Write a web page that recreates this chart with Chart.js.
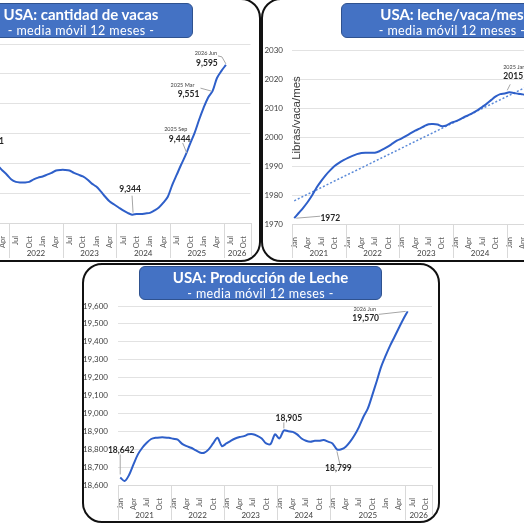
<!DOCTYPE html>
<html>
<head>
<meta charset="utf-8">
<script src="https://cdn.jsdelivr.net/npm/chart.js@4.4.1/dist/chart.umd.min.js"></script>
<style>
html,body{margin:0;padding:0;background:#fff}
body{position:relative;width:524px;height:524px;overflow:hidden;font-family:Lato,sans-serif}
.panel{position:absolute;box-sizing:border-box;border:2px solid #111;border-radius:20px;overflow:hidden;background:#fff}
.panel canvas{position:absolute}
.title{position:absolute;box-sizing:border-box;background:#4472c4;border:1px solid #2f528f;border-radius:6px;color:#fff;text-align:center;z-index:2}
.title b{display:block;font-size:15px;line-height:17px;margin-top:2px}
.title span{display:block;font-size:12.5px;line-height:15px;letter-spacing:.4px}
</style>
</head>
<body>

<div class="panel" style="left:-40px;top:-2px;width:301px;height:264px">
  <canvas id="cA" width="330" height="262" style="left:-22px;top:0"></canvas>
  <div class="title" style="left:7px;top:3px;width:224px;height:35px"><b>USA: cantidad de vacas</b><span>- media móvil 12 meses -</span></div>
</div>

<div class="panel" style="left:261px;top:-2px;width:300px;height:264px">
  <canvas id="cB" width="360" height="262" style="left:0;top:0"></canvas>
  <div class="title" style="left:78px;top:3px;width:222px;height:35px"><b>USA: leche/vaca/mes</b><span>- media móvil 12 meses -</span></div>
</div>

<div class="panel" style="left:82px;top:263px;width:358px;height:260px">
  <canvas id="cC" width="354" height="256" style="left:0;top:0"></canvas>
  <div class="title" style="left:55px;top:1px;width:243px;height:34px"><b>USA: Producción de Leche</b><span>- media móvil 12 meses -</span></div>
</div>

<script>
const LINE = "#2e5fc9";
const MONTHS = ["Jan","Feb","Mar","Apr","May","Jun","Jul","Aug","Sep","Oct","Nov","Dec"];
const SHOWN = ["Jan","Apr","Jul","Oct"];

function monthRun(start, count){
    return Array.from({length:count}, (_,i)=>MONTHS[(start+i)%12]);
}

// Cantidad de vacas (miles) - Jun 2021 .. Nov 2026, visible from 2022
const vacasMeses = monthRun(5, 66);
const vacas = [
    null,null,null,null,null,null,null,
    9441,9433,9426,9418,9411,9403,9399,9398,9398,9399,9403,9406,
    9408,9411,9414,9418,9419,9419,9418,9414,9411,9408,9403,9396,
    9391,9383,9374,9366,9361,9356,9351,9347,9344,9345,9345,9346,
    9347,9351,9356,9364,9374,9394,9411,9428,9444,9463,9481,9503,
    9523,9540,9551,9573,9585,9595,
    null,null,null,null,null
];
const vacasAnios = ["2021","2022","2023","2024","2025","2026"];
const vacasCortes = [0,12,24,36,48,60,66];

// Leche por vaca (libras/mes) - Jan 2021 ..
const lecheVacaMeses = monthRun(0, 71);
const lecheVaca = [
    1972.0,1973.8,1975.6,1977.6,1979.9,1982.6,1984.8,1986.8,1988.5,1990.0,1991.1,1992.0,
    1992.8,1993.5,1994.1,1994.5,1994.6,1994.6,1994.6,1995.1,1995.9,1996.8,1997.8,1998.8,
    1999.5,2000.4,2001.3,2002.2,2002.9,2003.7,2004.4,2004.5,2004.3,2003.7,2004.0,2004.9,
    2005.4,2006.1,2006.9,2007.6,2008.4,2009.3,2010.4,2011.5,2012.8,2014.0,2014.8,2015.0,
    2015.4,2015.2,2014.9,2014.7,2014.4
];
const tendIni = 1978.0, tendFin = 2017.4;
const tendencia = lecheVaca.map((_,i)=> i===0 ? tendIni : (i===lecheVaca.length-1 ? tendFin : null));
const lecheVacaAnios = ["2021","2022","2023","2024","2025","2026"];
const lecheVacaCortes = [0,12,24,36,48,65,71];

// Produccion de leche (millones de libras) - Jan 2021 .. Nov 2026
const produccionMeses = monthRun(0, 71);
const produccion = [
    18642,18622,18656,18715,18771,18808,18836,18857,18864,18866,18866,18864,
    18858,18853,18830,18817,18808,18795,18782,18780,18799,18832,18864,18817,
    18832,18847,18860,18868,18873,18883,18884,18875,18860,18832,18829,18883,
    18860,18905,18900,18897,18883,18860,18847,18842,18847,18847,18851,18842,
    18832,18799,18800,18814,18842,18879,18925,18981,19028,19102,19180,19260,
    19321,19377,19427,19477,19526,19570,
    null,null,null,null,null
];
const produccionAnios = ["2021","2022","2023","2024","2025","2026"];
const produccionCortes = [0,12,24,36,48,65,71];

const fmtMiles = v => v.toLocaleString("en-US");

// year row under the month labels (excel multi level axis)
const yearAxis = {
    id: "yearAxis",
    afterDraw(chart, args, opts){
        if(!opts || !opts.labels) return;
        const {ctx, chartArea} = chart;
        const x = chart.scales.x;
        const half = (x.getPixelForValue(1) - x.getPixelForValue(0)) / 2;
        const edge = i => x.getPixelForValue(i) - half;
        ctx.save();
        ctx.strokeStyle = "#d9d9d9"; ctx.lineWidth = 1;
        opts.cuts.forEach(i=>{
            const px = Math.round(edge(i)) + 0.5;
            ctx.beginPath(); ctx.moveTo(px, chartArea.bottom); ctx.lineTo(px, chartArea.bottom + opts.depth); ctx.stroke();
        });
        ctx.fillStyle = "#404040"; ctx.font = "8px Lato";
        ctx.textAlign = "center"; ctx.textBaseline = "middle";
        opts.labels.forEach((t,k)=>{
            ctx.fillText(t, (edge(opts.cuts[k]) + edge(opts.cuts[k+1])) / 2, chartArea.bottom + opts.textY);
        });
        ctx.restore();
    }
};

// data labels with leader lines
const pointNotes = {
    id: "pointNotes",
    afterDatasetsDraw(chart, args, opts){
        if(!opts || !opts.notes) return;
        const ctx = chart.ctx;
        const meta = chart.getDatasetMeta(0);
        const values = chart.data.datasets[0].data;
        ctx.save();
        ctx.textAlign = "center"; ctx.textBaseline = "middle";
        opts.notes.forEach(n=>{
            const p = meta.data[n.i];
            if(n.lead){
                ctx.strokeStyle = "#a6a6a6"; ctx.lineWidth = 1;
                ctx.beginPath();
                n.lead.forEach(([dx,dy],k)=> k ? ctx.lineTo(p.x+dx, p.y+dy) : ctx.moveTo(p.x+dx, p.y+dy));
                ctx.stroke();
            }
            if(n.cap){
                ctx.fillStyle = "#404040"; ctx.font = "5.5px Lato";
                ctx.fillText(n.cap, p.x+n.cx, p.y+n.cy);
            }
            ctx.fillStyle = "#262626"; ctx.font = "bold 8.5px Lato";
            ctx.fillText(opts.fmt(values[n.i]), p.x+n.dx, p.y+n.dy);
        });
        ctx.restore();
    }
};

Chart.register(yearAxis, pointNotes);
Chart.defaults.font.family = "Lato";

function lineChart(id, labels, datasets, cfg){
    return new Chart(document.getElementById(id), {
        type: "line",
        data: {labels, datasets},
        options: {
            responsive: false, animation: false, events: [],
            layout: {padding: cfg.pad},
            plugins: {
                legend: {display:false}, tooltip: {enabled:false},
                yearAxis: cfg.years, pointNotes: cfg.notes
            },
            scales: {
                x: {
                    offset: true,
                    grid: {display:false},
                    border: {display:true, color:"#d9d9d9"},
                    ticks: {
                        autoSkip:false, minRotation:90, maxRotation:90, padding:5,
                        color:"#595959", font:{size:7.5},
                        callback(v){ const l = this.getLabelForValue(v); return SHOWN.includes(l) ? l : ""; }
                    },
                    afterFit(s){ s.height = cfg.xh; s.paddingLeft = 0; s.paddingRight = 0; }
                },
                y: {
                    min: cfg.min, max: cfg.max,
                    grid: {color:"#e2e2e2", drawTicks:false},
                    border: {display:false},
                    ticks: {display: cfg.yw > 0, stepSize: cfg.step, padding: cfg.ytp,
                            color:"#404040", font:{size:8}, callback: cfg.yfmt},
                    afterFit(s){ s.width = cfg.yw; s.paddingTop = 0; s.paddingBottom = 0; }
                }
            }
        },
        plugins: cfg.extra || []
    });
}

lineChart("cA", vacasMeses, [
    {data: vacas, borderColor: LINE, borderWidth: 2, pointRadius: 0, tension: 0.3}
], {
    pad: {left:15.5, right:19.5, top:44, bottom:0}, xh: 39, yw: 0,
    min: 9330, max: 9630, step: 50, ytp: 0, yfmt: fmtMiles,
    years: {labels: vacasAnios, cuts: vacasCortes, depth: 35, textY: 30},
    notes: {fmt: fmtMiles, notes: [
        {i:7,  dx:4,   dy:-16},
        {i:39, dx:-2,  dy:-25, lead:[[0,-19],[1,-2]]},
        {i:51, dx:-6,  dy:-16, cap:"2025 Sep", cx:-10, cy:-26, lead:[[-3,-12],[1,-2]]},
        {i:57, dx:-24, dy:3,   cap:"2025 Mar", cx:-30, cy:-6,  lead:[[-12,-3],[-1,0]]},
        {i:60, dx:-19, dy:-2,  cap:"2026 Jun", cx:-20, cy:-12, lead:[[-8,-9],[-4,-8],[0,-1]]}
    ]}
});

lineChart("cB", lecheVacaMeses, [
    {data: lecheVaca, borderColor: LINE, borderWidth: 2, pointRadius: 0, tension: 0.3},
    {data: tendencia, borderColor: "#5b8ad8", borderWidth: 1.5, borderDash: [2,2], pointRadius: 0, spanGaps: true}
], {
    pad: {left:0, right:13, top:50, bottom:0}, xh: 38, yw: 29,
    min: 1970, max: 2030, step: 10, ytp: 9, yfmt: v => String(v),
    years: {labels: lecheVacaAnios, cuts: lecheVacaCortes, depth: 34, textY: 29},
    notes: {fmt: v => String(Math.round(v)), notes: [
        {i:0,  dx:36, dy:0,   lead:[[2,0],[26,-2]]},
        {i:48, dx:4,  dy:-16, cap:"2025 Jan", cx:5, cy:-25, lead:[[1,-8],[-2,-2]]}
    ]},
    extra: [{
        id: "ejeY",
        afterDraw(chart){
            const {ctx, chartArea} = chart;
            ctx.save();
            ctx.translate(chartArea.left + 5, 118);
            ctx.rotate(-Math.PI/2);
            ctx.font = "11.5px 'Liberation Sans'";
            ctx.fillStyle = "#404040";
            ctx.textAlign = "center"; ctx.textBaseline = "middle";
            ctx.fillText("Libras/vaca/mes", 0, 0);
            ctx.restore();
        }
    }]
});

lineChart("cC", produccionMeses, [
    {data: produccion, borderColor: LINE, borderWidth: 2, pointRadius: 0, tension: 0.3}
], {
    pad: {left:0, right:6, top:41, bottom:0}, xh: 36, yw: 34,
    min: 18600, max: 19600, step: 100, ytp: 10, yfmt: fmtMiles,
    years: {labels: produccionAnios, cuts: produccionCortes, depth: 35, textY: 30},
    notes: {fmt: fmtMiles, notes: [
        {i:0,  dx:1,   dy:-27, lead:[[0,-23],[0,-3]]},
        {i:37, dx:5,   dy:-12, lead:[[0,-8],[0,-2]]},
        {i:49, dx:1.5, dy:19,  lead:[[0,2],[3,15]]},
        {i:65, dx:-42, dy:7,   cap:"2026 Jun", cx:-43, cy:-2, lead:[[-29,3],[-2,0]]}
    ]}
});
</script>
</body>
</html>
